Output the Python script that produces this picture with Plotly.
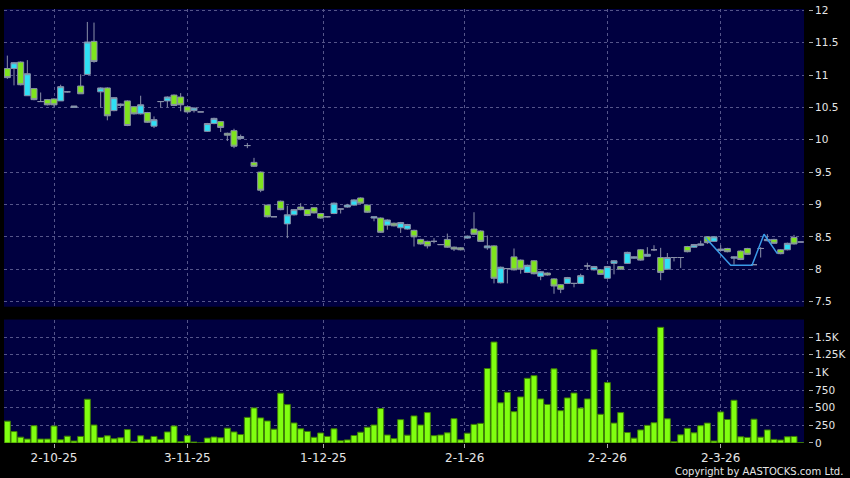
import plotly.graph_objects as go

# daily OHLC, oldest first
opens = [11.10, 11.10, 11.20, 10.68, 10.79, 10.59, 10.62, 10.63, 10.60, 10.74,
         10.50, 10.83, 11.01, 11.52, 10.74, 10.80, 10.45, 10.53, 10.60, 10.51,
         10.40, 10.42, 10.21, 10.59, 10.60, 10.69, 10.66, 10.51, 10.45, 10.43,
         10.13, 10.25, 10.28, 10.10, 10.14, 10.02, 9.91, 9.65, 9.50, 8.99,
         8.81, 9.05, 8.70, 8.84, 8.96, 8.92, 8.95, 8.86, 8.81, 8.86,
         8.93, 8.96, 8.99, 9.10, 8.99, 8.79, 8.79, 8.68, 8.71, 8.64,
         8.62, 8.60, 8.46, 8.43, 8.43, 8.38, 8.46, 8.34, 8.33, 8.48,
         8.62, 8.59, 8.33, 8.36, 7.79, 8.01, 8.19, 8.14, 7.95, 8.13,
         7.89, 7.94, 7.85, 7.76, 7.78, 7.78, 7.78, 8.05, 7.99, 7.99,
         7.86, 8.09, 8.04, 8.09, 8.17, 8.30, 8.20, 8.30, 8.18, 8.00,
         8.18, 8.18, 8.35, 8.34, 8.37, 8.50, 8.43, 8.29, 8.32, 8.17,
         8.28, 8.32, 8.07, 8.32, 8.44, 8.46, 8.30, 8.30, 8.49, 8.42]
highs = [11.30, 11.20, 11.21, 11.23, 10.80, 10.73, 10.63, 10.64, 10.85, 10.75,
         10.52, 11.01, 11.82, 11.81, 10.81, 10.81, 10.66, 10.56, 10.61, 10.52,
         10.68, 10.43, 10.36, 10.59, 10.67, 10.70, 10.72, 10.52, 10.50, 10.43,
         10.26, 10.34, 10.29, 10.11, 10.17, 10.08, 9.95, 9.72, 9.51, 9.00,
         8.81, 9.06, 8.98, 8.93, 9.02, 8.93, 8.96, 8.87, 8.82, 9.03,
         8.93, 9.01, 9.08, 9.11, 9.00, 8.81, 8.80, 8.77, 8.72, 8.73,
         8.70, 8.61, 8.47, 8.44, 8.48, 8.38, 8.55, 8.35, 8.34, 8.52,
         8.88, 8.60, 8.52, 8.37, 8.04, 8.01, 8.32, 8.15, 8.07, 8.14,
         7.97, 7.95, 7.86, 7.77, 7.88, 7.78, 7.93, 8.10, 8.05, 8.00,
         8.05, 8.14, 8.05, 8.27, 8.20, 8.31, 8.34, 8.37, 8.33, 8.25,
         8.18, 8.18, 8.36, 8.39, 8.44, 8.51, 8.51, 8.37, 8.33, 8.20,
         8.29, 8.33, 8.07, 8.34, 8.54, 8.47, 8.31, 8.41, 8.53, 8.42]
lows = [10.94, 10.84, 10.84, 10.68, 10.61, 10.59, 10.53, 10.51, 10.60, 10.73,
        10.50, 10.71, 11.00, 11.19, 10.50, 10.30, 10.44, 10.50, 10.21, 10.39,
        10.39, 10.26, 10.18, 10.50, 10.50, 10.52, 10.44, 10.42, 10.42, 10.43,
        10.12, 10.24, 10.12, 9.98, 9.87, 10.01, 9.87, 9.58, 9.19, 8.80,
        8.81, 8.91, 8.48, 8.83, 8.91, 8.82, 8.86, 8.78, 8.80, 8.85,
        8.86, 8.95, 8.98, 9.01, 8.87, 8.74, 8.56, 8.61, 8.66, 8.56,
        8.61, 8.35, 8.38, 8.32, 8.40, 8.38, 8.33, 8.28, 8.29, 8.47,
        8.53, 8.42, 8.30, 7.78, 7.78, 7.78, 7.98, 7.93, 7.94, 7.92,
        7.83, 7.90, 7.62, 7.63, 7.77, 7.72, 7.77, 7.99, 7.98, 7.91,
        7.85, 7.92, 7.99, 8.08, 8.16, 8.13, 8.19, 8.28, 7.83, 7.99,
        8.12, 8.02, 8.26, 8.33, 8.36, 8.39, 8.42, 8.28, 8.26, 8.07,
        8.14, 8.22, 8.07, 8.18, 8.43, 8.39, 8.23, 8.29, 8.38, 8.42]
closes = [10.96, 11.19, 10.85, 11.02, 10.62, 10.59, 10.54, 10.54, 10.82, 10.74,
          10.52, 10.71, 11.51, 11.21, 10.80, 10.37, 10.65, 10.55, 10.22, 10.40,
          10.54, 10.27, 10.31, 10.59, 10.66, 10.53, 10.54, 10.43, 10.49, 10.43,
          10.25, 10.33, 10.19, 10.07, 9.90, 10.05, 9.91, 9.59, 9.22, 8.81,
          8.81, 8.92, 8.84, 8.92, 8.92, 8.83, 8.87, 8.79, 8.81, 9.02,
          8.93, 8.99, 9.07, 9.02, 8.88, 8.81, 8.57, 8.76, 8.67, 8.72,
          8.69, 8.50, 8.39, 8.36, 8.43, 8.38, 8.34, 8.31, 8.30, 8.51,
          8.54, 8.43, 8.36, 7.86, 8.03, 8.01, 7.99, 8.00, 8.06, 7.93,
          7.96, 7.91, 7.74, 7.69, 7.87, 7.78, 7.90, 8.05, 8.04, 7.92,
          8.04, 8.13, 8.00, 8.26, 8.19, 8.14, 8.23, 8.30, 7.95, 8.18,
          8.18, 8.18, 8.27, 8.38, 8.39, 8.41, 8.50, 8.31, 8.27, 8.19,
          8.15, 8.23, 8.07, 8.32, 8.46, 8.40, 8.24, 8.40, 8.39, 8.42]
volume = [310, 162, 83, 56, 245, 56, 56, 241, 46, 97,
          28, 93, 620, 255, 79, 102, 60, 74, 190, 19,
          102, 51, 93, 51, 157, 241, 19, 104, 14, 0,
          70, 85, 74, 210, 157, 120, 363, 497, 356, 312,
          196, 706, 544, 284, 201, 164, 81, 142, 93, 201,
          32, 44, 106, 153, 224, 255, 488, 113, 62, 331,
          111, 384, 255, 431, 104, 113, 144, 345, 46, 139,
          264, 278, 1056, 1431, 570, 718, 444, 653, 917, 954,
          625, 546, 1051, 458, 639, 708, 495, 625, 1324, 407,
          856, 282, 431, 148, 69, 185, 250, 287, 1639, 343,
          19, 116, 208, 144, 245, 282, 28, 440, 333, 606,
          88, 79, 338, 83, 185, 51, 42, 88, 93, 5]

# month labels on the day axis
tick_pos = [7, 27, 47.4, 68.6, 90, 107]
tick_labels = ["2-10-25", "3-11-25", "1-12-25", "2-1-26", "2-2-26", "2-3-26"]

price_ticks = [7.5, 8, 8.5, 9, 9.5, 10, 10.5, 11, 11.5, 12]
price_labels = ["7.5", "8", "8.5", "9", "9.5", "10", "10.5", "11", "11.5", "12"]
vol_ticks = [0, 250, 500, 750, 1000, 1250, 1500]
vol_labels = ["0", "250", "500", "750", "1K", "1.25K", "1.5K"]

# the thin blue overlay line near the right end
line_x = [104.7, 108.5, 111.7, 113.5, 115.5]
line_y = [8.49, 8.06, 8.06, 8.54, 8.24]

days = list(range(len(opens)))

bg = "#000040"
grid = "#55558a"
wick = "#8a90a8"
label_col = "#e6e6e6"

fig = go.Figure()
fig.add_trace(go.Candlestick(
    x=days, open=opens, high=highs, low=lows, close=closes,
    increasing=dict(fillcolor="#2fe0f5", line=dict(color=wick, width=1)),
    decreasing=dict(fillcolor="#7fe41e", line=dict(color=wick, width=1)),
    xaxis="x", yaxis="y",
))
fig.add_trace(go.Scatter(
    x=line_x, y=line_y, mode="lines",
    line=dict(color="#3a9be8", width=1.5),
    xaxis="x", yaxis="y",
))
fig.add_trace(go.Bar(
    x=days, y=volume,
    marker=dict(color="#80ff10", line=dict(color="#3d7d05", width=1)),
    xaxis="x2", yaxis="y2",
))

xdom = [0, 803 / 807]
common_x = dict(
    domain=xdom, range=[-0.5, 119.5], tickvals=tick_pos,
    showgrid=True, gridcolor=grid, griddash="3px,3px", gridwidth=1,
    zeroline=False, showline=False,
)
yfont = dict(family="DejaVu Sans", size=10.5, color=label_col)
fig.update_layout(
    width=850, height=478,
    margin=dict(l=4, r=39, t=7, b=35),
    paper_bgcolor="black", plot_bgcolor=bg,
    showlegend=False, bargap=0.1, boxgap=0.1, boxgroupgap=0,
    font=dict(family="DejaVu Sans", size=11, color=label_col),
    xaxis=dict(common_x, anchor="y", showticklabels=False, ticks="",
               rangeslider=dict(visible=False)),
    xaxis2=dict(common_x, anchor="y2", matches="x", ticktext=tick_labels,
                ticks="outside", ticklen=4, tickcolor="#aaaaaa",
                tickfont=dict(family="DejaVu Sans", size=12, color=label_col)),
    yaxis=dict(domain=[0.314, 1], range=[7.42, 12.02], side="right",
               anchor="free", position=1,
               tickvals=price_ticks, ticktext=price_labels, tickfont=yfont,
               ticks="outside", ticklen=4, tickcolor="#aaaaaa",
               showgrid=True, gridcolor=grid, griddash="3px,3px",
               zeroline=False),
    yaxis2=dict(domain=[0, 0.2845], range=[0, 1750], side="right",
                anchor="free", position=1,
                tickvals=vol_ticks, ticktext=vol_labels, tickfont=yfont,
                ticks="outside", ticklen=4, tickcolor="#aaaaaa",
                showgrid=True, gridcolor=grid, griddash="3px,3px",
                zeroline=False),
)
fig.add_annotation(
    text="Copyright by AASTOCKS.com Ltd.", xref="paper", yref="paper",
    x=1, y=0, xanchor="right", yanchor="top", xshift=37, yshift=-21,
    showarrow=False, font=dict(family="DejaVu Sans", size=10, color=label_col),
)

# the page body has a default 8px margin; drop it so the chart sits at 0,0
fig.write_html(
    "out.html",
    config={"displayModeBar": False},
    post_script="document.body.style.margin='0';",
)
